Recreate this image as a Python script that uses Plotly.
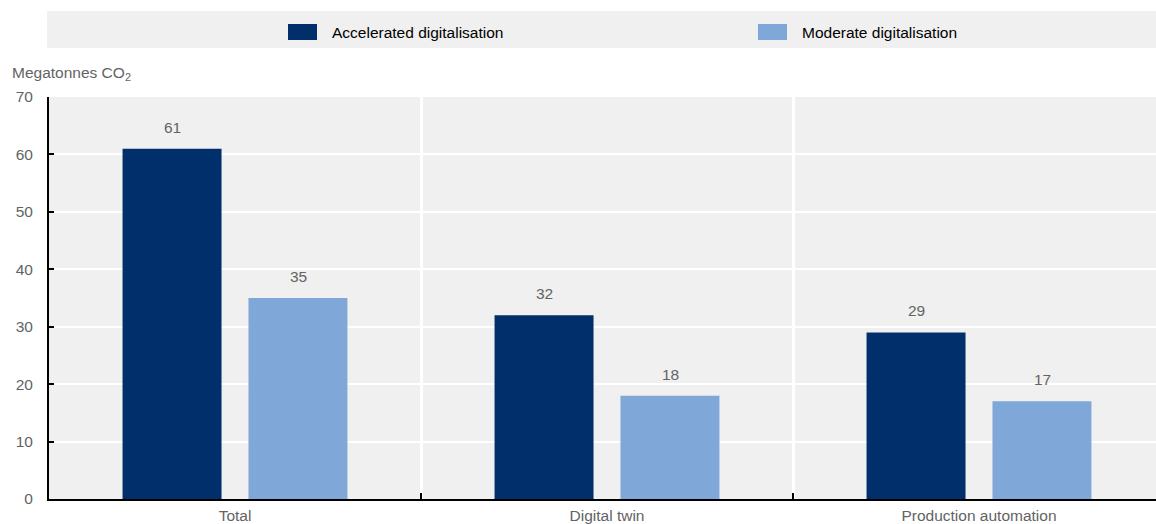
import plotly.graph_objects as go

# Data
categories = ["Total", "Digital twin", "Production automation"]
accelerated = [61, 32, 29]
moderate = [35, 18, 17]
series_names = ["Accelerated digitalisation", "Moderate digitalisation"]
y_ticks = [0, 10, 20, 30, 40, 50, 60, 70]

# Styling
COL_ACC = "#002F6C"
COL_MOD = "#7FA8D9"
BG = "#F0F0F0"
GREY = "#636363"
FONT = "Liberation Sans, Arial, sans-serif"
FS = 15.5

W, H = 1156, 524
ML, MR, MT, MB = 49, 0, 97, 25
PW, PH = W - ML - MR, H - MT - MB


def px_x(px):
    return (px - ML) / PW


def px_y(py):
    return (H - MB - py) / PH


fig = go.Figure()
fig.add_trace(go.Bar(x=categories, y=accelerated, name=series_names[0],
                     marker=dict(color=COL_ACC, line=dict(width=0))))
fig.add_trace(go.Bar(x=categories, y=moderate, name=series_names[1],
                     marker=dict(color=COL_MOD, line=dict(width=0))))

# Value labels above each bar
slot_px = 126
for vals, shift in ((accelerated, -slot_px / 2), (moderate, slot_px / 2)):
    for c, v in zip(categories, vals):
        fig.add_annotation(x=c, y=v, text=str(v), showarrow=False,
                           xshift=shift, yshift=11, yanchor="bottom",
                           font=dict(family=FONT, size=FS, color=GREY))

# Legend band
shapes = [dict(type="rect", xref="paper", yref="paper",
               x0=px_x(47), x1=px_x(1160), y0=px_y(48), y1=px_y(11),
               fillcolor=BG, line=dict(width=0), layer="below")]
legend_items = [(series_names[0], COL_ACC, 288), (series_names[1], COL_MOD, 758)]
for name, col, x0 in legend_items:
    shapes.append(dict(type="rect", xref="paper", yref="paper",
                       x0=px_x(x0), x1=px_x(x0 + 29), y0=px_y(40), y1=px_y(24),
                       fillcolor=col, line=dict(width=0)))
    fig.add_annotation(xref="paper", yref="paper", x=px_x(x0 + 42), y=px_y(32),
                       text=name, showarrow=False, xanchor="left", yanchor="middle",
                       font=dict(family=FONT, size=FS, color="#000000"))

# Axis unit label
fig.add_annotation(xref="paper", yref="paper", x=px_x(10), y=px_y(73),
                   text="Megatonnes CO<sub>2</sub>", showarrow=False,
                   xanchor="left", yanchor="middle",
                   font=dict(family=FONT, size=FS, color=GREY))

fig.update_layout(
    width=W, height=H,
    margin=dict(l=ML, r=MR, t=MT, b=MB, pad=0),
    paper_bgcolor="white", plot_bgcolor=BG,
    barmode="group", bargap=0.323, bargroupgap=0.214,
    showlegend=False,
    shapes=shapes,
    font=dict(family=FONT, size=FS, color=GREY),
)
fig.update_xaxes(
    type="category", range=[-0.5, -0.5 + PW / 372],
    tickson="boundaries", ticks="inside", ticklen=6, tickwidth=2, tickcolor="#000000",
    showgrid=True, gridcolor="white", gridwidth=3,
    showline=True, linecolor="#000000", linewidth=2,
    tickfont=dict(family=FONT, size=FS, color=GREY), ticklabelstandoff=1,
)
fig.update_yaxes(
    range=[0, 70], tickvals=y_ticks,
    ticks="inside", ticklen=5, tickwidth=2, tickcolor="#000000",
    showgrid=True, gridcolor="white", gridwidth=2,
    showline=True, linecolor="#000000", linewidth=2,
    zeroline=False,
    tickfont=dict(family=FONT, size=FS, color=GREY), ticklabelstandoff=11,
)

fig.write_html("out.html")
